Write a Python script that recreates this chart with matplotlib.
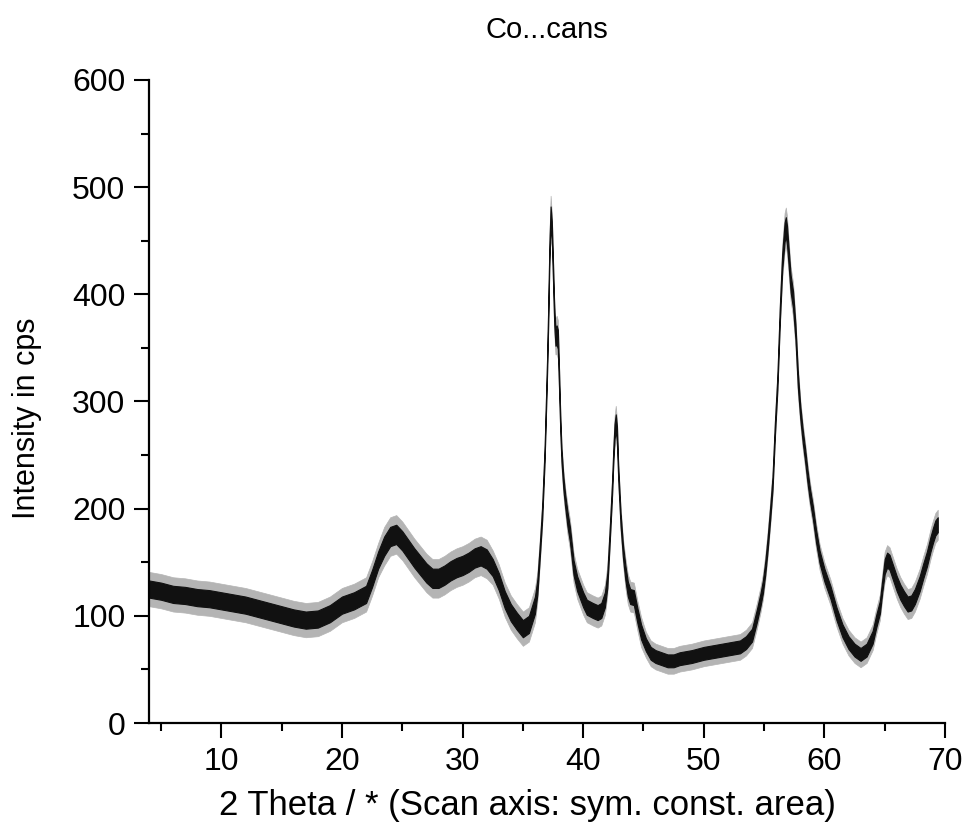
import numpy as np
import matplotlib
matplotlib.use('Agg')
import matplotlib.pyplot as plt

plt.rcParams['font.family'] = ['Liberation Sans', 'DejaVu Sans']

# ============================================================
# 数据（从图中读取的 XRD 曲线，中心值与噪声带半宽）
# ============================================================

two_theta = [
    4, 5, 6, 7, 8, 9, 10, 11, 12, 13, 14, 15, 16, 17, 18, 19, 20, 21, 22,
    22.5, 23, 23.5, 24, 24.5, 25, 25.5, 26, 26.5, 27, 27.5, 28, 28.5, 29,
    29.5, 30, 30.5, 31, 31.5, 32, 32.5, 33, 33.5, 34, 34.5, 35, 35.5, 36,
    36.2, 36.4, 36.6, 36.8, 37.0, 37.1, 37.2, 37.3, 37.4, 37.5, 37.6, 37.7,
    37.8, 37.9, 38.0, 38.1, 38.2, 38.35, 38.5, 38.7, 38.9, 39.2, 39.5, 39.7,
    40.0, 40.3, 40.8, 41.2, 41.5, 41.8, 42.0, 42.2, 42.4, 42.5, 42.6, 42.7,
    42.8, 42.9, 43.1, 43.3, 43.5, 43.7, 43.9, 44.2, 44.5, 44.8, 45.2, 45.6,
    46, 46.5, 47, 47.5, 48, 49, 50, 51, 52, 53, 53.5, 54, 54.4, 54.7, 54.9,
    55.1, 55.3, 55.5, 55.7, 55.9, 56.1, 56.3, 56.5, 56.7, 56.8, 56.9, 57.0,
    57.2, 57.4, 57.6, 57.8, 58.0, 58.2, 58.4, 58.6, 58.8, 59.05, 59.3, 59.6,
    60.0, 60.5, 61.0, 61.5, 62, 62.5, 63, 63.5, 64, 64.3, 64.6, 64.8, 65.0,
    65.2, 65.4, 65.7, 66.0, 66.3, 66.6, 66.9, 67.2, 67.5, 67.9, 68.2, 68.5,
    68.8, 69.0, 69.2, 69.4,
]

intensity = [
    125, 123, 120, 119, 117, 116, 114, 112, 110, 107, 104, 101, 98, 96, 97, 102, 110, 114, 120,
    135, 152, 165, 174, 176, 170, 162, 154, 147, 140, 135, 135, 138, 142,
    145, 147, 150, 154, 156, 153, 145, 132, 115, 103, 95, 88, 92, 110,
    127, 160, 196, 250, 330, 380, 440, 472, 460, 420, 380, 360,
    362, 358, 320, 280, 250, 225, 208, 190, 176, 145, 130, 124,
    115, 108, 105, 103, 105, 115, 133, 175, 220, 250, 272, 280,
    270, 235, 190, 160, 140, 125, 118, 117, 100, 85, 73, 65,
    62, 60, 58, 58, 60, 62, 65, 67, 69, 71, 75, 82, 100, 115, 127,
    145, 168, 195, 224, 275, 317, 380, 430, 458, 463, 455, 440,
    410, 395, 365, 320, 290, 268, 250, 230, 213, 196, 175, 155,
    138, 122, 102, 86, 75, 68, 64, 68, 80, 95, 108, 128, 146,
    152, 150, 140, 130, 122, 116, 111, 112, 118, 130, 142, 153,
    167, 175, 182, 185,
]

# 噪声带半宽（cps）
noise = [
    8, 8, 8, 8, 8, 8, 8, 8, 8, 8, 8, 8, 8, 8, 8, 8, 8, 8, 8,
    8, 8, 9, 9, 9, 9, 9, 9, 9, 9, 9, 9, 9, 9,
    9, 9, 9, 9, 9, 9, 8, 8, 8, 8, 8, 8, 8, 8,
    7, 6, 6, 6, 7, 8, 8, 10, 8, 8, 8, 8,
    9, 9, 8, 7, 6, 6, 6, 7, 7, 7, 7, 7,
    7, 7, 7, 7, 7, 7, 7, 6, 6, 6, 7, 8,
    7, 6, 6, 6, 7, 7, 7, 7, 7, 7, 6, 6,
    6, 6, 6, 6, 6, 6, 6, 6, 6, 6, 6, 6, 6, 6, 6,
    6, 6, 6, 6, 6, 6, 7, 8, 9, 9, 9, 8,
    8, 8, 7, 7, 6, 6, 6, 6, 6, 6, 6, 6,
    6, 6, 6, 6, 6, 6, 6, 6, 6, 6, 6, 6, 7,
    7, 7, 7, 7, 7, 7, 7, 7, 7, 7, 7, 7,
    7, 7, 7, 7,
]

x_ticks = [10, 20, 30, 40, 50, 60, 70]
y_ticks = [0, 100, 200, 300, 400, 500, 600]

# ============================================================
# 绘图
# ============================================================

tt = np.array(two_theta)
ii = np.array(intensity)
nn = np.array(noise)

fig = plt.figure(figsize=(9.66, 8.3), dpi=100)
ax = fig.add_axes([149/966, 107/830, 796/966, 643/830])

# 外层尖峰（浅灰）+ 内层密集噪声带（黑）
ax.fill_between(tt, ii - 2.0*nn, ii + 2.0*nn, color='#b4b4b4', linewidth=0.5, edgecolor='#b4b4b4')
ax.fill_between(tt, ii - nn, ii + nn, color='#111111', linewidth=0.8, edgecolor='#111111')

ax.set_xlim(4, 70)
ax.set_ylim(0, 600)
ax.set_xticks(x_ticks)
ax.set_yticks(y_ticks)
ax.set_xticks(np.arange(5, 70, 10), minor=True)
ax.set_yticks(np.arange(50, 600, 100), minor=True)

for s in ['top', 'right']:
    ax.spines[s].set_visible(False)
for s in ['left', 'bottom']:
    ax.spines[s].set_linewidth(1.6)

ax.tick_params(which='major', direction='out', length=11, width=1.5, labelsize=23, pad=6)
ax.tick_params(which='minor', direction='out', length=6, width=1.5)

ax.set_xlabel('2 Theta / * (Scan axis: sym. const. area)', fontsize=25)
ax.xaxis.set_label_coords(0.475, -0.102)
ax.set_ylabel('Intensity in cps', fontsize=22)
ax.yaxis.set_label_coords(-0.134, 0.474)
ax.set_title('Co...cans', fontsize=21, pad=30)

plt.savefig('out.png', dpi=100)
plt.close()
